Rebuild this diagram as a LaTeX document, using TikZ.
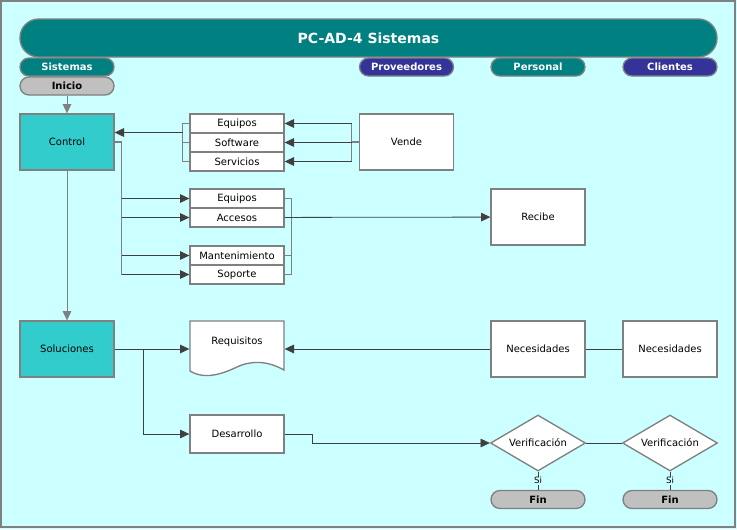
\documentclass[tikz,border=0pt]{standalone}
\usepackage{fontspec}
\setmainfont{DejaVu Sans}
\usepackage{tikz}
\usetikzlibrary{shapes,arrows.meta}
\definecolor{fondo}{HTML}{CCFFFF}
\definecolor{teal1}{HTML}{008080}
\definecolor{indigo1}{HTML}{333399}
\definecolor{cian1}{HTML}{33CCCC}
\definecolor{gris1}{HTML}{C0C0C0}
\definecolor{borde}{HTML}{808080}
\definecolor{linea}{HTML}{404040}
\tikzset{%
	block/.style    = {draw=borde, line width=1pt, rectangle, fill=white,
		minimum width=70.5pt, minimum height=42pt, inner sep=0pt,
		font=\fontsize{7.5}{9}\selectfont},
	entry/.style    = {block, minimum height=14.25pt}, % fila de lista
	proc/.style     = {block, fill=cian1}, % Proceso de Sistemas
	lane/.style     = {draw=borde, line width=1pt, rounded corners=6.75pt,
		minimum width=70.5pt, minimum height=13.5pt, inner sep=0pt,
		text=white, font=\bfseries\fontsize{7.5}{8}\selectfont},
	term/.style     = {lane, fill=gris1, text=black}, % Inicio / Fin
	decision/.style = {draw=borde, line width=1pt, diamond, aspect=1.7,
		fill=white, minimum width=71.25pt, minimum height=42pt, inner sep=0pt,
		font=\fontsize{7.5}{9}\selectfont},
	link/.style     = {draw=linea, line width=0.6pt},
	arr/.style      = {link, -{Triangle[length=7pt,width=6.5pt]}},
	brace/.style    = {draw=borde, line width=0.9pt} % corchete
}
\begin{document}
\begin{tikzpicture}[x=0.75pt,y=-0.75pt]
	\useasboundingbox (0,0) rectangle (737,529);
	\fill[fondo] (0,0) rectangle (737,529);
	\draw[borde, line width=1pt] (1,1) rectangle (735,527);

	% cabecera
	\node[lane, fill=teal1, minimum width=522.75pt, minimum height=28.5pt,
		rounded corners=14pt, font=\bfseries\fontsize{10.5}{12}\selectfont]
		(titulo) at (368.5,38) {PC-AD-4 Sistemas};
	\node[lane, fill=teal1] (hsis) at (67,67) {Sistemas};
	\node[lane, fill=indigo1] (hprov) at (406.5,67) {Proveedores};
	\node[lane, fill=teal1] (hpers) at (538,67) {Personal};
	\node[lane, fill=indigo1] (hcli) at (670,67) {Clientes};
	\node[term] (inicio) at (67,86) {Inicio};

	% bloques
	\node[proc] (control) at (67,142) {Control};
	\node[entry] (equipos) at (237,123.5) {Equipos};
	\node[entry] (software) at (237,142.5) {Software};
	\node[entry] (servicios) at (237,161.5) {Servicios};
	\node[block] (vende) at (406.5,142) {Vende};
	\node[entry] (equipos2) at (237,198.5) {Equipos};
	\node[entry] (accesos) at (237,217.5) {Accesos};
	\node[entry] (mant) at (237,255.5) {Mantenimiento};
	\node[entry] (soporte) at (237,274.5) {Soporte};
	\node[block] (recibe) at (538,217) {Recibe};

	\node[proc] (soluciones) at (67,349) {Soluciones};
	\filldraw[fill=white, draw=borde, line width=1pt] (190,321) -- (284,321) -- (284,370)
		.. controls (268,361) and (252,360) .. (237,367)
		.. controls (222,374) and (205,380) .. (190,371) -- cycle;
	\node[block, draw=none, fill=none,
		label={[name=reqtxt, yshift=5.25pt, font=\fontsize{7.5}{9}\selectfont]center:Requisitos}]
		(requisitos) at (237,349) {};
	\node[block, minimum height=28.5pt] (desarrollo) at (237,434) {Desarrollo};
	\node[block] (necpers) at (538,349) {Necesidades};
	\node[block] (neccli) at (670,349) {Necesidades};
	\node[decision] (verpers) at (538,443) {Verificación};
	\node[decision] (vercli) at (670,443) {Verificación};
	\node[term] (finpers) at (538,499.5) {Fin};
	\node[term] (fincli) at (670,499.5) {Fin};

	% conectores
	\draw[arr, draw=borde] (inicio) -- (control);
	\draw[arr, draw=borde] (control) -- (soluciones);

	\draw[brace] (vende.west) -- ++(-7,0) coordinate (vj);
	\draw[brace] (vj |- equipos) -- (vj |- servicios);
	\draw[arr] (vj |- equipos) -- (equipos.east);
	\draw[arr] (vj |- software) -- (software.east);
	\draw[arr] (vj |- servicios) -- (servicios.east);

	\draw[brace] (equipos.west) -- ++(-7,0) coordinate (cj) -- (cj |- servicios) -- (servicios.west);
	\draw[brace] (software.west) -- (cj |- software);
	\coordinate (cin) at (183,132.5);
	\draw[arr] (cin) -- (cin -| control.east);

	\draw[brace] (control.east) -- ++(7,0) coordinate (oj) -- (oj |- soporte);
	\foreach \n in {equipos2,accesos,mant,soporte}
		\draw[arr] (oj |- \n) -- (\n.west);
	\draw[brace] (equipos2.east) -- ++(7,0) coordinate (rj) -- (rj |- soporte) -- (soporte.east);
	\draw[brace] (mant.east) -- (rj |- mant);
	\draw[arr] (accesos) -- (recibe);

	\draw[arr] (soluciones) -- (requisitos);
	\coordinate (sj) at (143,349);
	\draw[arr] (sj) |- (desarrollo);
	\draw[arr] (desarrollo.east) -- ++(28,0) |- (verpers.west);
	\draw[arr] (necpers) -- (requisitos);
	\draw[link] (necpers) -- (neccli);
	\draw[link] (verpers) -- (vercli);
	\draw[link] (verpers.south) -- node[fill=fondo, inner sep=0.5pt,
		font=\fontsize{6.5}{7}\selectfont] {Si} (finpers.north);
	\draw[link] (vercli.south) -- node[fill=fondo, inner sep=0.5pt,
		font=\fontsize{6.5}{7}\selectfont] {Si} (fincli.north);
\end{tikzpicture}
\end{document}
